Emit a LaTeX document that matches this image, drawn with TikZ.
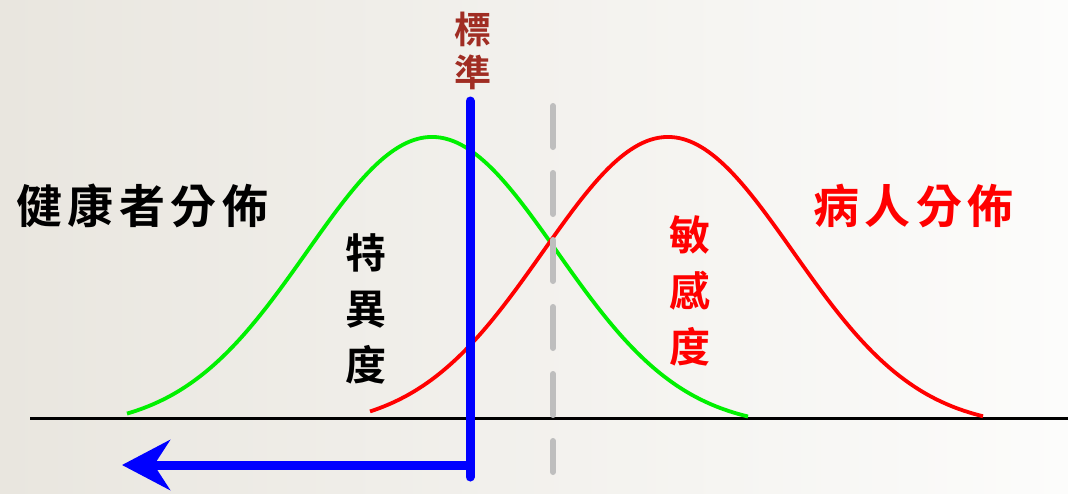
\documentclass[tikz,border=0pt]{standalone}
\usepackage{fontspec}
\newfontfamily\cjk{Noto Sans CJK TC}[BoldFont={Noto Sans CJK TC Bold}]
\newfontfamily\cjkwide{Noto Sans CJK TC}[BoldFont={Noto Sans CJK TC Bold}, LetterSpace=12]
\usetikzlibrary{arrows.meta}
\definecolor{bgL}{RGB}{233,230,223}
\definecolor{bgR}{RGB}{252,252,251}
\definecolor{stdred}{RGB}{160,45,35}
\definecolor{dashgray}{RGB}{190,190,190}
\definecolor{cgreen}{RGB}{0,240,0}
\tikzset{
  curve/.style={line width=3.8pt},
  bigtext/.style={font=\cjkwide\bfseries\fontsize{46}{50}\selectfont, inner sep=0pt},
  vtext/.style={font=\cjk\bfseries\fontsize{41}{56}\selectfont, align=center, inner sep=0pt},
  stdtext/.style={font=\cjk\bfseries\fontsize{37}{43}\selectfont, align=center, inner sep=0pt, text=stdred},
  criterion/.style={line width=9pt, draw=blue, line cap=round},
  cutoff/.style={line width=6pt, draw=dashgray, line cap=round, dash pattern=on 41pt off 26pt},
}
\begin{document}
\begin{tikzpicture}[x=1pt,y=-1pt]
\useasboundingbox (0,0) rectangle (1068,493);
\shade[left color=bgL, right color=bgR] (0,0) rectangle (1068,493);
% axis
\coordinate (axL) at (30,418);
\coordinate (axR) at (1068,418);
\draw[line width=3pt, black] (axL) -- (axR);
% healthy distribution
\draw[curve, cgreen] plot[domain=127:748, samples=120, smooth]
  (\x, {415 - 278*(exp(-((\x-432)/100)^2/3.125)-0.046)/0.954});
% disease distribution
\draw[curve, red] plot[domain=370:983, samples=120, smooth]
  (\x, {415 - 278*(exp(-((\x-668)/100)^2/3.125)-0.046)/0.954});
% dashed cutoff
\coordinate (cutT) at (553,106);
\coordinate (cutB) at (553,472);
\draw[cutoff] (cutT) -- (cutB);
% criterion line
\coordinate (crT) at (470,101);
\coordinate (crB) at (470,477);
\coordinate (crC) at (470,465);
\coordinate (tip) at (122,465);
\draw[criterion, -{Stealth[length=48pt, width=50pt, inset=16pt]}] (crC) -- (tip);
\draw[criterion] (crT) -- (crB);
% labels
\node[stdtext] (std) at (473,51) {標\\準};
\node[bigtext, anchor=west] (healthy) at (16,206) {健康者分佈};
\node[bigtext, anchor=west, text=red] (sick) at (813,206) {病人分佈};
\node[vtext] (spec) at (366,309) {特\\異\\度};
\node[vtext, text=red] (sens) at (690,291) {敏\\感\\度};
\end{tikzpicture}
\end{document}
